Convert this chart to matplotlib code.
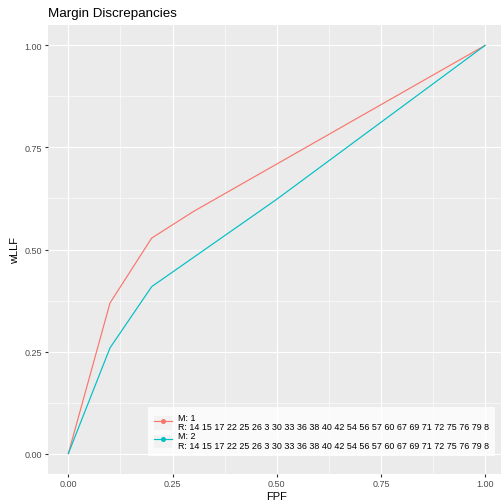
import numpy as np
import matplotlib
matplotlib.use("Agg")
import matplotlib.pyplot as plt
from matplotlib.legend_handler import HandlerLine2D
from matplotlib.patches import Rectangle
from matplotlib.lines import Line2D

plt.rcParams['font.family'] = ['Liberation Sans', 'DejaVu Sans']

# data
fpf_m1 = [0.0, 0.1, 0.2, 0.3, 1.0]
wllf_m1 = [0.0, 0.369, 0.528, 0.593, 1.0]
fpf_m2 = [0.0, 0.1, 0.2, 0.5, 1.0]
wllf_m2 = [0.0, 0.259, 0.409, 0.623, 1.0]
readers = "14 15 17 22 25 26 3 30 33 36 38 40 42 54 56 57 60 67 69 71 72 75 76 79 8"
labels = ["M: 1\nR: " + readers, "M: 2\nR: " + readers]
colors = ["#F8766D", "#00BFC4"]
ticks = [0.0, 0.25, 0.5, 0.75, 1.0]
tick_labels = ["0.00", "0.25", "0.50", "0.75", "1.00"]


# legend key with the grey ggplot background square
class KeyHandler(HandlerLine2D):
    def create_artists(self, legend, orig_handle, xdescent, ydescent,
                       width, height, fontsize, trans):
        bg = Rectangle((-xdescent, -ydescent), width, height,
                       facecolor='#F2F2F2', edgecolor='none', transform=trans)
        arts = super().create_artists(legend, orig_handle, xdescent, ydescent,
                                      width, height, fontsize, trans)
        return [bg] + list(arts)


W, H = 501, 502
fig = plt.figure(figsize=(W / 100, H / 100), dpi=100)
ax = fig.add_axes([47.5 / W, (H - 475) / H, 458.4 / W, 449 / H])
ax.set_facecolor('#EBEBEB')
for s in ax.spines.values():
    s.set_visible(False)

ax.set_xlim(-0.05, 1.05)
ax.set_ylim(-0.05, 1.05)
ax.set_xticks(ticks)
ax.set_xticklabels(tick_labels)
ax.set_yticks(ticks)
ax.set_yticklabels(tick_labels)
ax.set_xticks([0.125, 0.375, 0.625, 0.875], minor=True)
ax.set_yticks([0.125, 0.375, 0.625, 0.875], minor=True)
ax.grid(which='major', color='white', linewidth=0.8)
ax.grid(which='minor', color='white', linewidth=0.4)
ax.set_axisbelow(True)
ax.tick_params(which='major', length=2.0, width=0.8, color='#333333',
               labelsize=6.5, labelcolor='#4D4D4D', pad=1.8)
ax.tick_params(which='minor', length=0)

ax.plot(fpf_m1, wllf_m1, color=colors[0], linewidth=0.85)
ax.plot(fpf_m2, wllf_m2, color=colors[1], linewidth=0.85)

ax.set_xlabel("FPF", fontsize=8, labelpad=2)
ax.set_ylabel("wLLF", fontsize=8, labelpad=3.2)
fig.text(48 / W, 1 - 17 / H, "Margin Discrepancies", fontsize=9.6,
         ha='left', va='baseline')

handles = [Line2D([], [], color=c, linewidth=0.85, marker='o', markersize=2.6)
           for c in colors]
leg = fig.legend(handles, labels, loc='lower right',
                 bbox_to_anchor=(495 / W, (H - 457) / H),
                 fontsize=6.4, frameon=True, fancybox=False,
                 handler_map={Line2D: KeyHandler()},
                 handlelength=2.0, handleheight=2.0, handletextpad=0.7,
                 labelspacing=0.0, borderpad=0.65, borderaxespad=0.0)
leg.get_frame().set_facecolor('white')
leg.get_frame().set_edgecolor('none')
for t in leg.get_texts():
    t.set_linespacing(1.12)

fig.savefig("out.png", dpi=100)
